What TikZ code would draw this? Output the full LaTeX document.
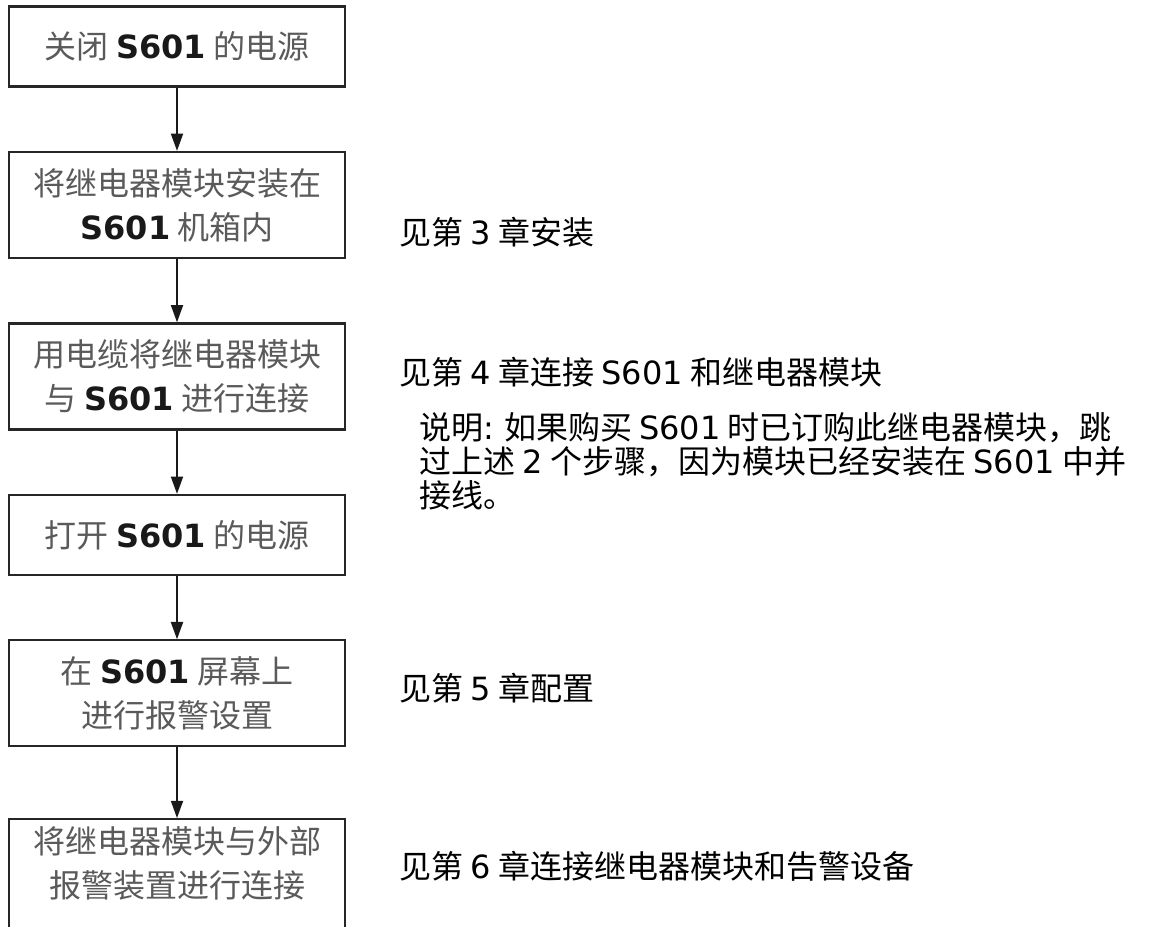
\documentclass[tikz,border=0pt]{standalone}
\usepackage{fontspec}
\usepackage{xcolor}
\usepackage{tikz}
\usetikzlibrary{positioning,arrows.meta}
\setmainfont{Noto Sans CJK SC}
\newfontfamily\latfont{DejaVu Sans}
\definecolor{boxtext}{HTML}{5A5A5A}
\newcommand{\bsn}[1]{{\latfont\bfseries\color{black!90}#1}}
\newcommand{\sn}[1]{{\latfont #1}}

\begin{document}
\begin{tikzpicture}[x=0.75pt, y=-0.75pt, node distance=47.5pt,
    stepbox/.style={draw=black!85, line width=1.6pt, minimum width=252pt, align=center,
        text=boxtext, font=\fontsize{24pt}{33pt}\selectfont},
    short/.style={stepbox, minimum height=60pt},
    tall/.style={stepbox, minimum height=79.5pt},
    note/.style={anchor=west, align=left, font=\fontsize{24pt}{25.5pt}\selectfont},
    arr/.style={line width=1.5pt, draw=black!90, -{Triangle[length=13pt, width=9pt]}}]
    \useasboundingbox (0,0) rectangle (1159,926);

    \node [short] (OFF) at (177,46.5) {关闭 \bsn{S601} 的电源};
    \node [tall, below=of OFF] (INST) {将继电器模块安装在\\\bsn{S601} 机箱内};
    \node [tall, below=of INST] (CAB) {用电缆将继电器模块\\与 \bsn{S601} 进行连接};
    \node [short, below=of CAB] (ON) {打开 \bsn{S601} 的电源};
    \node [tall, below=of ON] (CFG) {在 \bsn{S601} 屏幕上\\进行报警设置};
    \node [stepbox, minimum height=86pt, text depth=22pt, below=53pt of CFG] (EXT) {将继电器模块与外部\\报警装置进行连接};

    \node [note] (SEEINST) at (395,232) {见第 \sn{3} 章安装};
    \node [note] (SEECAB) at (395,372) {见第 \sn{4} 章连接 \sn{S601} 和继电器模块};
    \node [note] (TIP) at (415,461) {说明\sn{:} 如果购买 \sn{S601} 时已订购此继电器模块，跳\\过上述 \sn{2} 个步骤，因为模块已经安装在 \sn{S601} 中并\\接线。};
    \node [note] (SEECFG) at (395,688) {见第 \sn{5} 章配置};
    \node [note] (SEEEXT) at (395,866) {见第 \sn{6} 章连接继电器模块和告警设备};

    \draw [arr] (OFF) -- (INST);
    \draw [arr] (INST) -- (CAB);
    \draw [arr] (CAB) -- (ON);
    \draw [arr] (ON) -- (CFG);
    \draw [arr] (CFG) -- (EXT);
\end{tikzpicture}
\end{document}
